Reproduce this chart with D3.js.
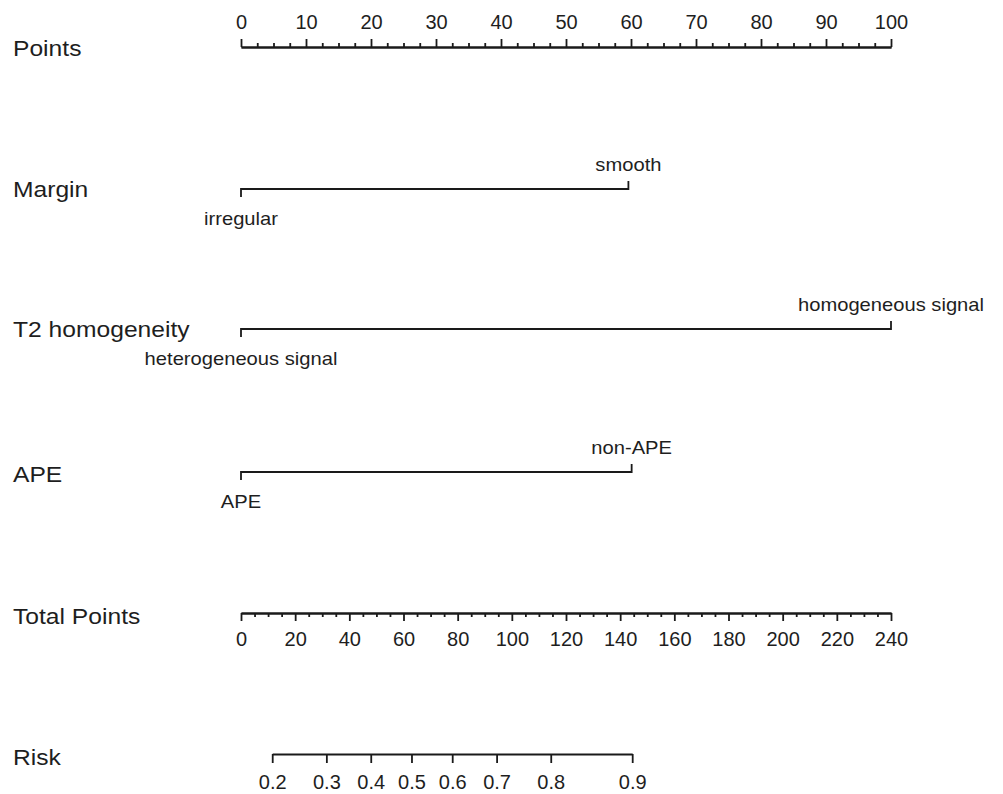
<!DOCTYPE html>
<html>
<head>
<meta charset="utf-8">
<script src="https://cdn.jsdelivr.net/npm/d3@7"></script>
<style>
  body { margin: 0; background: #fff; }
  svg text { font-family: "Liberation Sans", Arial, sans-serif; fill: #1e1e1e; }
  .axis path, .axis line { stroke: #1a1a1a; stroke-width: 1.8; }
  .axis text { font-size: 20px; }
</style>
</head>
<body>
<svg id="chart" width="1003" height="794"></svg>
<script>
// nomogram values
const pointsTicks = [0, 10, 20, 30, 40, 50, 60, 70, 80, 90, 100]
const totalTicks = [0, 20, 40, 60, 80, 100, 120, 140, 160, 180, 200, 220, 240]
const riskTicks = [0.2, 0.3, 0.4, 0.5, 0.6, 0.7, 0.8, 0.9]

const variables = ['Margin', 'T2 homogeneity', 'APE']
const lowLevels = ['irregular', 'heterogeneous signal', 'APE']
const highLevels = ['smooth', 'homogeneous signal', 'non-APE']
const lowPoints = [0, 0, 0]
const highPoints = [59.6, 100, 60.1]

// linear predictor = lpIntercept + lpSlope * total points
const lpIntercept = -1.697
const lpSlope = 0.02696

const rowLabels = ['Points', 'Margin', 'T2 homogeneity', 'APE', 'Total Points', 'Risk']
const rowY = [47, 189, 329, 472, 613, 754]

const svg = d3.select('#chart')
const left = 241, right = 891

const x = d3.scaleLinear().domain([0, 100]).range([left, right])
const xTotal = d3.scaleLinear().domain([0, 240]).range([left, right])

function addText(x0, y0, txt, size, anchor) {
  svg.append('text')
    .attr('transform', `translate(${x0},${y0}) scale(1.12,1)`)
    .attr('font-size', size)
    .attr('text-anchor', anchor || 'start')
    .text(txt)
}

// row titles on the left
rowLabels.forEach((lab, i) => {
  const off = [9, 8, 8, 10, 11, 11][i]
  addText(13, rowY[i] + off, lab, 22)
})

// Points axis (ticks up)
const minorPts = d3.range(0, 100.1, 2.5).filter(v => v % 10 !== 0)
svg.append('g').attr('class', 'axis')
  .attr('transform', `translate(0,${rowY[0]})`)
  .call(d3.axisTop(x).tickValues(minorPts).tickSize(4).tickSizeOuter(0).tickFormat(''))
svg.append('g').attr('class', 'axis')
  .attr('transform', `translate(0,${rowY[0]})`)
  .call(d3.axisTop(x).tickValues(pointsTicks).tickSize(8).tickSizeOuter(0).tickPadding(10))

// categorical rows
variables.forEach((v, i) => {
  const y = rowY[i + 1]
  const x0 = x(lowPoints[i]), x1 = x(highPoints[i])
  svg.append('path')
    .attr('d', `M${x0},${y + 8}V${y}H${x1}V${y - 8}`)
    .attr('fill', 'none')
    .attr('stroke', '#1a1a1a')
    .attr('stroke-width', 1.8)
  addText(x1, y - 18, highLevels[i], 18, 'middle')
  addText(x0, y + 36, lowLevels[i], 18, 'middle')
})

// Total Points axis (ticks down)
const minorTot = d3.range(0, 240.1, 5).filter(v => v % 20 !== 0)
svg.append('g').attr('class', 'axis')
  .attr('transform', `translate(0,${rowY[4]})`)
  .call(d3.axisBottom(xTotal).tickValues(minorTot).tickSize(4).tickSizeOuter(0).tickFormat(''))
svg.append('g').attr('class', 'axis')
  .attr('transform', `translate(0,${rowY[4]})`)
  .call(d3.axisBottom(xTotal).tickValues(totalTicks).tickSize(8).tickSizeOuter(0).tickPadding(11))

// Risk axis, placed through total points
const logit = p => Math.log(p / (1 - p))
const riskPos = r => xTotal((logit(r) - lpIntercept) / lpSlope)
const xRisk = d3.scaleLinear()
  .domain([logit(riskTicks[0]), logit(riskTicks[riskTicks.length - 1])])
  .range([riskPos(riskTicks[0]), riskPos(riskTicks[riskTicks.length - 1])])
svg.append('g').attr('class', 'axis')
  .attr('transform', `translate(0,${rowY[5]})`)
  .call(d3.axisBottom(xRisk).tickValues(riskTicks.map(logit)).tickSize(9).tickSizeOuter(0).tickPadding(12)
    .tickFormat((d, i) => riskTicks[i]))

svg.selectAll('.axis .domain').attr('stroke', '#1a1a1a')
svg.selectAll('.axis text').attr('fill', '#1e1e1e')
</script>
</body>
</html>
